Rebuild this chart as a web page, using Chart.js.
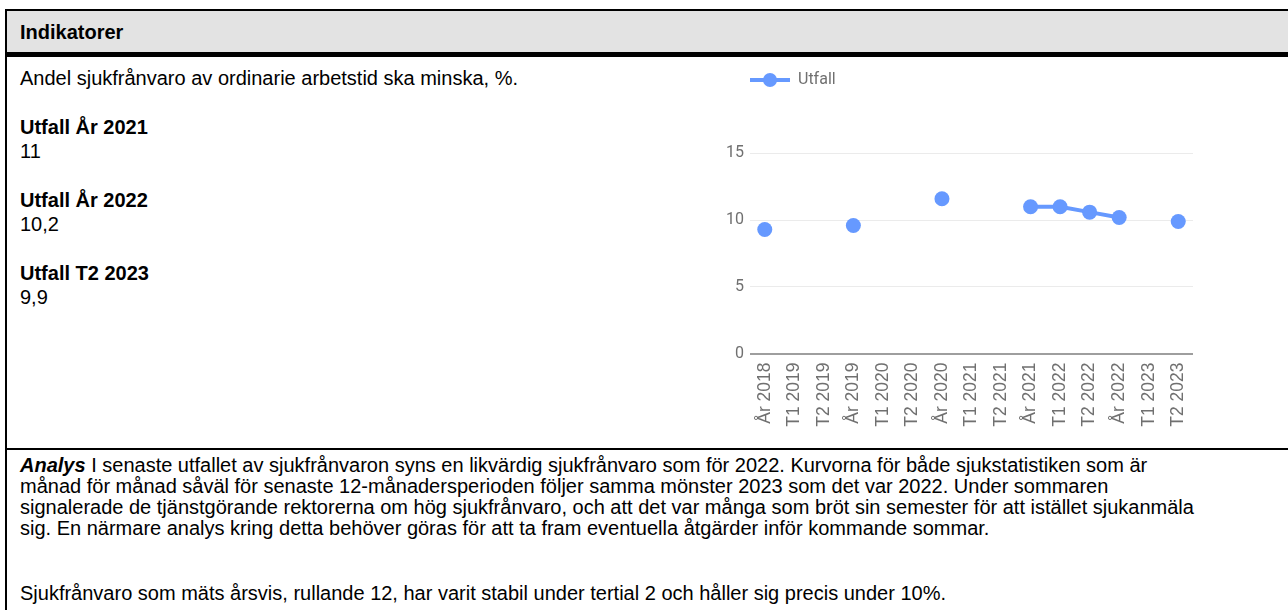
<!DOCTYPE html>
<html lang="sv">
<head>
<meta charset="utf-8">
<script src="https://cdn.jsdelivr.net/npm/chart.js@4/dist/chart.umd.min.js"></script>
<style>
  html, body { margin: 0; padding: 0; background: #fff; }
  body { width: 1288px; height: 610px; position: relative; overflow: hidden;
         font-family: "Liberation Sans", Arial, sans-serif; font-size: 20px; color: #000; }
  .ram { position: absolute; left: 5px; top: 9px; width: 1400px; height: 700px;
         border-left: 2px solid #000; border-top: 2px solid #000; }
  .rubrik { position: absolute; left: 7px; top: 11px; width: 1281px; height: 41px;
            background: #e3e3e3; border-bottom: 5px solid #000; }
  .rubrik span { position: absolute; left: 13px; top: 9px; font-weight: bold; line-height: 24px; }
  .vanster { position: absolute; left: 20px; top: 66px; line-height: 24px; white-space: nowrap; }
  .vanster p { margin: 0 0 25px 0; }
  .linje { position: absolute; left: 7px; top: 448px; width: 1281px; height: 2px; background: #000; }
  .analys { position: absolute; left: 20px; top: 454.5px; line-height: 21px; white-space: nowrap; }
  .analys p { margin: 0 0 44px 0; }
  #graf-wrap { position: absolute; left: 700px; top: 22px; width: 588px; height: 426px; }
</style>
</head>
<body>
<div class="ram"></div>
<div class="rubrik"><span>Indikatorer</span></div>

<div class="vanster">
  <p>Andel sjukfrånvaro av ordinarie arbetstid ska minska, %.</p>
  <p><b>Utfall År 2021</b><br>11</p>
  <p><b>Utfall År 2022</b><br>10,2</p>
  <p><b>Utfall T2 2023</b><br>9,9</p>
</div>

<div class="linje"></div>

<div class="analys">
  <p><b><i>Analys</i></b> I senaste utfallet av sjukfrånvaron syns en likvärdig sjukfrånvaro som för 2022. Kurvorna för både sjukstatistiken som är<br>
  månad för månad såväl för senaste 12-månadersperioden följer samma mönster 2023 som det var 2022. Under sommaren<br>
  signalerade de tjänstgörande rektorerna om hög sjukfrånvaro, och att det var många som bröt sin semester för att istället sjukanmäla<br>
  sig. En närmare analys kring detta behöver göras för att ta fram eventuella åtgärder inför kommande sommar.</p>
  <p>Sjukfrånvaro som mäts årsvis, rullande 12, har varit stabil under tertial 2 och håller sig precis under 10%.</p>
</div>

<div id="graf-wrap"><canvas id="graf-utfall" width="588" height="426"></canvas></div>

<script>
// DATA
const kategorier = ['År 2018', 'T1 2019', 'T2 2019', 'År 2019', 'T1 2020', 'T2 2020', 'År 2020',
                    'T1 2021', 'T2 2021', 'År 2021', 'T1 2022', 'T2 2022', 'År 2022', 'T1 2023', 'T2 2023'];
const utfall = [9.3, null, null, 9.6, null, null, 11.6, null, null, 11.0, 11.0, 10.6, 10.2, null, 9.9];
const yTicks = [0, 5, 10, 15];
const serieNamn = 'Utfall';

const FARG = '#6699ff';
const TEXTFARG = '#707070';

// ikon för legenden: linje med punkt i mitten
function skapaLegendIkon(farg) {
    const c = document.createElement('canvas');
    c.width = 40;
    c.height = 16;
    const g = c.getContext('2d');
    g.strokeStyle = farg;
    g.lineWidth = 4;
    g.beginPath();
    g.moveTo(0, 8);
    g.lineTo(40, 8);
    g.stroke();
    g.fillStyle = farg;
    g.beginPath();
    g.arc(20, 8, 7, 0, Math.PI * 2);
    g.fill();
    return c;
}

function ritaGrafUtfall() {
    const ctx = document.getElementById('graf-utfall').getContext('2d');
    const ikon = skapaLegendIkon(FARG);

    const data = {
        labels: kategorier,
        datasets: [{
            label: serieNamn,
            data: utfall,
            borderColor: FARG,
            backgroundColor: FARG,
            borderWidth: 4,
            pointRadius: 7.5,
            pointHoverRadius: 7.5,
            pointBorderWidth: 0,
            spanGaps: false,
            tension: 0
        }]
    };

    const options = {
        responsive: false,
        animation: false,
        devicePixelRatio: 1,
        layout: { padding: { left: 0, right: 95, top: 0, bottom: 0 } },
        plugins: {
            tooltip: { enabled: false },
            legend: {
                position: 'top',
                align: 'start',
                labels: {
                    usePointStyle: true,
                    pointStyleWidth: 40,
                    padding: 50,
                    color: TEXTFARG,
                    font: { family: 'Roboto', size: 16 },
                    generateLabels: (chart) => {
                        const items = Chart.defaults.plugins.legend.labels.generateLabels(chart);
                        items.forEach(it => { it.pointStyle = ikon; it.fontColor = TEXTFARG; });
                        return items;
                    }
                }
            }
        },
        scales: {
            x: {
                offset: true,
                grid: { display: false, drawTicks: false },
                border: { display: false },
                ticks: {
                    autoSkip: false,
                    minRotation: 90,
                    maxRotation: 90,
                    padding: 9,
                    color: TEXTFARG,
                    font: { family: 'Liberation Sans', size: 17.5 }
                },
                afterFit: (scale) => { scale.height = 94.5; }
            },
            y: {
                min: 0,
                max: 19.16,
                border: { display: false },
                grid: {
                    drawTicks: false,
                    color: (c) => c.tick && c.tick.value === 0 ? '#9e9e9e' : '#ebebeb',
                    lineWidth: (c) => c.tick && c.tick.value === 0 ? 2 : 1
                },
                ticks: {
                    padding: 6,
                    color: TEXTFARG,
                    font: { family: 'Roboto', size: 16 }
                },
                afterBuildTicks: (scale) => { scale.ticks = yTicks.map(v => ({ value: v })); },
                afterFit: (scale) => { scale.width = 50; }
            }
        }
    };

    new Chart(ctx, { type: 'line', data: data, options: options });
}

ritaGrafUtfall();
</script>
</body>
</html>
